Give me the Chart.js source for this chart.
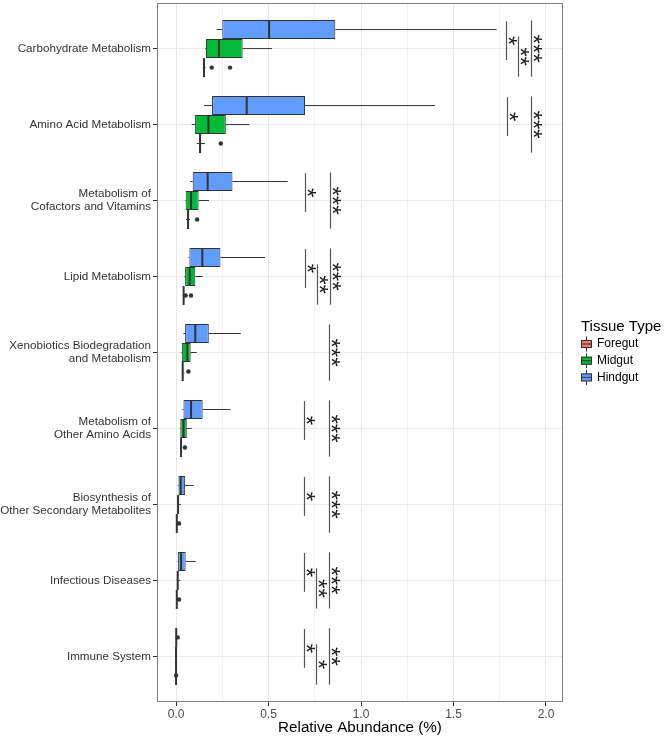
<!DOCTYPE html>
<html>
<head>
<meta charset="utf-8">
<script src="https://cdn.jsdelivr.net/npm/chart.js@4"></script>
<style>
  html, body { margin: 0; padding: 0; background: #ffffff; }
  canvas { display: block; }
</style>
</head>
<body>
<canvas id="abundanceChart" width="666" height="738"></canvas>
<script>
// categories, top to bottom
var categories = [
  "Carbohydrate Metabolism",
  "Amino Acid Metabolism",
  ["Metabolism of", "Cofactors and Vitamins"],
  "Lipid Metabolism",
  ["Xenobiotics Biodegradation", "and Metabolism"],
  ["Metabolism of", "Other Amino Acids"],
  ["Biosynthesis of", "Other Secondary Metabolites"],
  "Infectious Diseases",
  "Immune System",
];

// x axis ticks (labelled) and minor grid values
var xMajorTicks = [0.0, 0.5, 1.0, 1.5, 2.0];
var xMinorTicks = [0.25, 0.75, 1.25, 1.75];

// Hindgut box stats
var hindLow  = [0.220, 0.151, 0.076, 0.067, 0.040, 0.034, 0.009, 0.008, 0.000];
var hindQ1   = [0.250, 0.195, 0.090, 0.072, 0.049, 0.040, 0.013, 0.011, 0.000];
var hindMed  = [0.503, 0.382, 0.171, 0.142, 0.104, 0.081, 0.025, 0.027, 0.001];
var hindQ3   = [0.861, 0.697, 0.305, 0.240, 0.177, 0.144, 0.049, 0.052, 0.002];
var hindHigh = [1.733, 1.400, 0.604, 0.481, 0.350, 0.294, 0.096, 0.106, 0.003];
var hindOut  = [[], [], [], [], [], [], [], [], [0.009]];

// Midgut box stats
var midLow  = [0.158, 0.085, 0.049, 0.045, 0.028, 0.020, 0.005, 0.004, 0.000];
var midQ1   = [0.162, 0.103, 0.052, 0.049, 0.031, 0.023, 0.008, 0.007, 0.000];
var midMed  = [0.232, 0.175, 0.081, 0.074, 0.061, 0.040, 0.011, 0.009, 0.000];
var midQ3   = [0.360, 0.269, 0.122, 0.104, 0.079, 0.058, 0.014, 0.012, 0.001];
var midHigh = [0.519, 0.396, 0.178, 0.144, 0.112, 0.085, 0.025, 0.022, 0.002];
var midOut  = [[], [], [], [], [], [], [], [], []];

// Foregut box stats
var foreLow  = [0.145, 0.112, 0.054, 0.036, 0.032, 0.022, 0.001, 0.001, 0.000];
var foreQ1   = [0.148, 0.125, 0.062, 0.039, 0.034, 0.025, 0.003, 0.003, 0.000];
var foreMed  = [0.151, 0.130, 0.065, 0.041, 0.036, 0.027, 0.004, 0.004, 0.000];
var foreQ3   = [0.154, 0.135, 0.068, 0.043, 0.038, 0.029, 0.005, 0.005, 0.000];
var foreHigh = [0.160, 0.157, 0.076, 0.046, 0.040, 0.033, 0.008, 0.008, 0.001];
var foreOut  = [[0.193, 0.292], [0.242], [0.114], [0.052, 0.081], [0.067], [0.048], [0.016], [0.016], [0.000]];

// significance marks: Hindgut vs Midgut, Midgut vs Foregut, Hindgut vs Foregut
var sigHM  = ["*", "*", "*", "*", "", "*", "*", "*", "*"];
var sigMF  = ["**", "", "", "**", "", "", "", "**", "*"];
var sigHF  = ["***", "***", "***", "***", "***", "***", "***", "***", "**"];
var sigHMx = [1.784, 1.787, 0.697, 0.697, null, 0.694, 0.692, 0.694, 0.690];
var sigMFx = [1.847, null, null, 0.760, null, null, null, 0.758, 0.755];
var sigHFx = [1.917, 1.917, 0.832, 0.832, 0.829, 0.827, 0.825, 0.829, 0.827];

var tissueColors = { Foregut: "#F8766D", Midgut: "#00BA38", Hindgut: "#619CFF" };
var tissueStats = {
  Hindgut: { low: hindLow, q1: hindQ1, med: hindMed, q3: hindQ3, high: hindHigh, out: hindOut },
  Midgut:  { low: midLow,  q1: midQ1,  med: midMed,  q3: midQ3,  high: midHigh,  out: midOut },
  Foregut: { low: foreLow, q1: foreQ1, med: foreMed, q3: foreQ3, high: foreHigh, out: foreOut },
};

var FONT = "'Liberation Sans', Arial, Helvetica, sans-serif";
var OUTLINE = "#333333";
Chart.defaults.font.family = FONT;
Chart.defaults.color = "#333333";

function isMajor(v) {
  return xMajorTicks.some(function (t) { return Math.abs(t - v) < 1e-9; });
}

// whiskers under the boxes, medians / outliers / stars / legend on top
var boxExtras = {
  id: "boxExtras",
  beforeDatasetsDraw: function (chart) {
    var ctx = chart.ctx, xs = chart.scales.x;
    ctx.save();
    ctx.strokeStyle = OUTLINE;
    ctx.lineWidth = 1;
    chart.data.datasets.forEach(function (ds, d) {
      var meta = chart.getDatasetMeta(d);
      meta.data.forEach(function (el, i) {
        var s = ds.stats;
        ctx.beginPath();
        ctx.moveTo(xs.getPixelForValue(s.low[i]), el.y);
        ctx.lineTo(xs.getPixelForValue(s.q1[i]), el.y);
        ctx.moveTo(xs.getPixelForValue(s.q3[i]), el.y);
        ctx.lineTo(xs.getPixelForValue(s.high[i]), el.y);
        ctx.stroke();
      });
    });
    ctx.restore();
  },
  afterDatasetsDraw: function (chart) {
    var ctx = chart.ctx, xs = chart.scales.x, ys = chart.scales.y;
    var area = chart.chartArea;
    ctx.save();

    // medians and outliers
    chart.data.datasets.forEach(function (ds, d) {
      var meta = chart.getDatasetMeta(d);
      meta.data.forEach(function (el, i) {
        var s = ds.stats;
        var mx = xs.getPixelForValue(s.med[i]);
        ctx.strokeStyle = OUTLINE;
        ctx.lineWidth = 2;
        ctx.beginPath();
        ctx.moveTo(mx, el.y - el.height / 2);
        ctx.lineTo(mx, el.y + el.height / 2);
        ctx.stroke();
        ctx.fillStyle = OUTLINE;
        s.out[i].forEach(function (v) {
          ctx.beginPath();
          ctx.arc(xs.getPixelForValue(v), el.y, 2.2, 0, Math.PI * 2);
          ctx.fill();
        });
      });
    });

    // significance brackets
    var cat = ys.getPixelForValue(1) - ys.getPixelForValue(0);
    var groups = [
      { marks: sigHM, xv: sigHMx, span: [-0.36, 0.15] },
      { marks: sigMF, xv: sigMFx, span: [-0.16, 0.37] },
      { marks: sigHF, xv: sigHFx, span: [-0.37, 0.37] },
    ];
    ctx.font = "24px " + FONT;
    groups.forEach(function (g) {
      g.marks.forEach(function (m, i) {
        if (!m) return;
        var x = Math.round(xs.getPixelForValue(g.xv[i])) + 0.5;
        var yc = ys.getPixelForValue(i);
        var y0 = yc + g.span[0] * cat, y1 = yc + g.span[1] * cat;
        ctx.strokeStyle = "#555555";
        ctx.lineWidth = 1.2;
        ctx.beginPath();
        ctx.moveTo(x, y0);
        ctx.lineTo(x, y1);
        ctx.stroke();
        var tm = ctx.measureText(m);
        var mid = (tm.actualBoundingBoxAscent - tm.actualBoundingBoxDescent) / 2;
        ctx.save();
        ctx.translate(x + 5.5, (y0 + y1) / 2);
        ctx.rotate(Math.PI / 2);
        ctx.fillStyle = "#1a1a1a";
        ctx.textAlign = "center";
        ctx.textBaseline = "alphabetic";
        ctx.fillText(m, 0, mid);
        ctx.restore();
      });
    });

    // panel border
    ctx.strokeStyle = "#7F7F7F";
    ctx.lineWidth = 1;
    ctx.strokeRect(area.left + 0.5, area.top + 0.5, area.right - area.left - 1, area.bottom - area.top - 1);

    // legend (Foregut, Midgut, Hindgut)
    var lx = 581, ly = 327;
    ctx.fillStyle = "#000000";
    ctx.font = "15px " + FONT;
    ctx.textAlign = "left";
    ctx.textBaseline = "middle";
    ctx.fillText("Tissue Type", lx, ly);
    ctx.font = "12px " + FONT;
    chart.data.datasets.slice().reverse().forEach(function (ds, k) {
      var cy = ly + 17 + k * 16.7;
      var gx = lx + 5;
      ctx.strokeStyle = OUTLINE;
      ctx.lineWidth = 1;
      ctx.beginPath();
      ctx.moveTo(gx + 0.5, cy - 7.5);
      ctx.lineTo(gx + 0.5, cy + 7.5);
      ctx.stroke();
      ctx.fillStyle = ds.backgroundColor;
      ctx.fillRect(lx, cy - 4, 11, 8);
      ctx.strokeRect(lx + 0.5, cy - 3.5, 10, 7);
      ctx.beginPath();
      ctx.moveTo(lx, cy);
      ctx.lineTo(lx + 11, cy);
      ctx.stroke();
      ctx.fillStyle = "#000000";
      ctx.fillText(ds.label, lx + 16, cy);
    });
    ctx.restore();
  },
};

var order = ["Hindgut", "Midgut", "Foregut"]; // top to bottom within a category
var datasets = order.map(function (name) {
  var s = tissueStats[name];
  return {
    label: name,
    data: categories.map(function (c, i) { return [s.q1[i], s.q3[i]]; }),
    backgroundColor: tissueColors[name],
    borderColor: OUTLINE,
    borderWidth: 1,
    borderSkipped: false,
    stats: s,
  };
});

var ctx = document.getElementById("abundanceChart").getContext("2d");
var abundanceChart = new Chart(ctx, {
  type: "bar",
  data: { labels: categories, datasets: datasets },
  plugins: [boxExtras],
  options: {
    indexAxis: "y",
    responsive: false,
    animation: false,
    events: [],
    layout: { padding: { top: 3, right: 103, left: 0, bottom: 0 } },
    datasets: { bar: { categoryPercentage: 0.75, barPercentage: 1 } },
    plugins: { legend: { display: false }, tooltip: { enabled: false } },
    scales: {
      x: {
        type: "linear",
        bounds: "data",
        min: -0.103,
        max: 2.092,
        afterBuildTicks: function (scale) {
          scale.ticks = xMajorTicks.concat(xMinorTicks)
            .sort(function (a, b) { return a - b; })
            .map(function (v) { return { value: v }; });
        },
        afterFit: function (scale) {
          scale.height = 36;
          scale.paddingLeft = 0;
          scale.paddingRight = 0;
        },
        ticks: {
          autoSkip: false,
          maxRotation: 0,
          padding: 1,
          color: "#4D4D4D",
          font: { size: 12 },
          callback: function (v) { return isMajor(v) ? v.toFixed(1) : ""; },
        },
        grid: {
          color: function (c) { return c.tick && isMajor(c.tick.value) ? "#E8E8E8" : "#F3F3F3"; },
          tickColor: function (c) { return c.tick && isMajor(c.tick.value) ? OUTLINE : "rgba(0,0,0,0)"; },
          tickLength: 4,
        },
        border: { display: false },
        title: {
          display: true,
          text: "Relative Abundance (%)",
          color: "#000000",
          font: { size: 15.2, lineHeight: 1.2 },
          padding: { top: 0, bottom: 1 },
        },
      },
      y: {
        type: "category",
        offset: true,
        afterBuildTicks: function (scale) {
          // ggplot-style 0.6 category padding at both ends
          scale._startValue = -0.6;
          scale._valueRange = categories.length - 1 + 1.2;
        },
        afterFit: function (scale) {
          scale.width = 157;
          scale.paddingTop = 0;
          scale.paddingBottom = 0;
        },
        ticks: {
          autoSkip: false,
          padding: 2,
          color: "#333333",
          font: { size: 11.65, lineHeight: 1.14 },
        },
        grid: { offset: false, color: "#EBEBEB", tickColor: OUTLINE, tickLength: 4 },
        border: { display: false },
      },
    },
  },
});
</script>
</body>
</html>
